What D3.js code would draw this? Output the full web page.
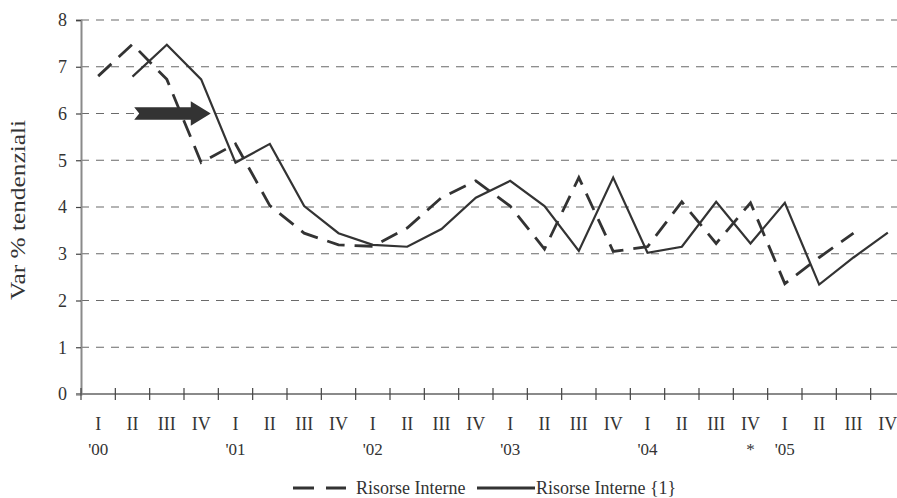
<!DOCTYPE html>
<html>
<head>
<meta charset="utf-8">
<script src="https://cdn.jsdelivr.net/npm/d3@7"></script>
<style>
  html, body { margin: 0; padding: 0; background: #fff; }
  svg { display: block; }
  text { font-family: "Liberation Serif", "Times New Roman", serif; fill: #333; }
</style>
</head>
<body>
<svg id="chart" width="897" height="498"></svg>
<script>
// Quarterly categories
const years = ["'00", "'01", "'02", "'03", "'04", "'05"];
const quarterNames = ["I", "II", "III", "IV"];
// Footnote marker printed under a quarter
const footnoteMarks = [{ year: "'04", quarter: "IV", mark: "*" }];

// Var % tendenziali, one value per quarter (null = no observation)
const risorseInterne = [
  6.80, 7.48, 6.73, 4.95,
  5.35, 4.03, 3.44, 3.19,
  3.16, 3.55, 4.20, 4.56,
  4.02, 3.10, 4.63, 3.05,
  3.15, 4.11, 3.22, 4.09,
  2.36, 2.92, 3.44, null
];
const risorseInterne1 = [
  null, 6.79, 7.47, 6.73,
  4.95, 5.35, 4.02, 3.44,
  3.19, 3.15, 3.53, 4.20,
  4.56, 4.02, 3.06, 4.63,
  3.02, 3.15, 4.11, 3.22,
  4.09, 2.34, 2.92, 3.45
];
const yTicks = [0, 1, 2, 3, 4, 5, 6, 7, 8];
const seriesNames = ["Risorse Interne", "Risorse Interne {1}"];
// Shift arrow, in quarter-index units along the 6% line
const arrowSpan = { from: 1.05, to: 3.28, value: 6 };

const categories = [];
years.forEach(yr => quarterNames.forEach(q => categories.push({ year: yr, quarter: q, key: q + yr })));

const svg = d3.select("#chart");
const plotLeft = 81, plotTop = 20, plotBottom = 394, plotRight = 905;

const x = d3.scaleBand().domain(categories.map(d => d.key)).range([plotLeft, plotRight]).paddingInner(0).paddingOuter(0);
const xi = d3.scaleLinear().domain([0, categories.length - 1])
  .range([x(categories[0].key) + x.bandwidth() / 2, x(categories[categories.length - 1].key) + x.bandwidth() / 2]);
const y = d3.scaleLinear().domain([0, 8]).range([plotBottom, plotTop]);

svg.append("rect").attr("width", 897).attr("height", 498).attr("fill", "#fff");

// Horizontal gridlines
svg.append("g").selectAll("line").data(yTicks.filter(v => v > 0)).join("line")
  .attr("x1", plotLeft).attr("x2", 897)
  .attr("y1", d => y(d)).attr("y2", d => y(d))
  .attr("stroke", "#6a6a6a").attr("stroke-width", 1.1)
  .attr("stroke-dasharray", "8,7");

// Y axis
const yAxis = svg.append("g").attr("transform", `translate(${plotLeft},0)`)
  .call(d3.axisLeft(y).tickValues(yTicks).tickSize(5).tickPadding(9).tickFormat(d3.format("d")));
yAxis.select(".domain").attr("stroke", "#8a8a8a").attr("stroke-width", 2);
yAxis.selectAll(".tick line").attr("stroke", "#444").attr("stroke-width", 1.2);
yAxis.selectAll(".tick text").attr("font-size", 18).attr("font-family", "Liberation Serif").attr("fill", "#333");

// X axis with ticks at quarter boundaries
const edges = categories.map(d => x(d.key)).concat([plotRight]);
svg.append("line").attr("x1", plotLeft - 5).attr("x2", 897).attr("y1", plotBottom).attr("y2", plotBottom)
  .attr("stroke", "#8a8a8a").attr("stroke-width", 2);
svg.append("g").selectAll("line").data(edges).join("line")
  .attr("x1", d => d).attr("x2", d => d)
  .attr("y1", plotBottom - 6).attr("y2", plotBottom + 6)
  .attr("stroke", "#444").attr("stroke-width", 1.2);

// Quarter labels
svg.append("g").selectAll("text").data(categories).join("text")
  .attr("x", d => x(d.key) + x.bandwidth() / 2).attr("y", 430)
  .attr("text-anchor", "middle").attr("font-size", 18)
  .text(d => d.quarter);
// Year labels under the first quarter
svg.append("g").selectAll("text").data(categories.filter(d => d.quarter === "I")).join("text")
  .attr("x", d => x(d.key) + x.bandwidth() / 2).attr("y", 455)
  .attr("text-anchor", "middle").attr("font-size", 17)
  .text(d => d.year);
svg.append("g").selectAll("text").data(footnoteMarks).join("text")
  .attr("x", d => x(d.quarter + d.year) + x.bandwidth() / 2).attr("y", 455)
  .attr("text-anchor", "middle").attr("font-size", 17)
  .text(d => d.mark);

// Y axis title
svg.append("text")
  .attr("transform", "translate(25,210) rotate(-90)")
  .attr("text-anchor", "middle").attr("font-size", 21)
  .attr("textLength", 180).attr("lengthAdjust", "spacingAndGlyphs")
  .text("Var % tendenziali");

// Series lines
const line = d3.line()
  .defined(d => d.v != null)
  .x(d => x(d.key) + x.bandwidth() / 2)
  .y(d => y(d.v));
const dashedData = categories.map((c, i) => ({ key: c.key, v: risorseInterne[i] }));
const solidData = categories.map((c, i) => ({ key: c.key, v: risorseInterne1[i] }));

svg.append("path").datum(dashedData).attr("d", line)
  .attr("fill", "none").attr("stroke", "#333").attr("stroke-width", 2.8)
  .attr("stroke-dasharray", "18,10");
svg.append("path").datum(solidData).attr("d", line)
  .attr("fill", "none").attr("stroke", "#333").attr("stroke-width", 2.2)
  .attr("stroke-linejoin", "miter");

// Block arrow marking the one-quarter shift
{
  const ax0 = xi(arrowSpan.from), ax1 = xi(arrowSpan.to), yc = y(arrowSpan.value);
  const headLen = 20, headHalf = 12.3, shaftHalf = 6.2, notch = 5;
  const pts = [
    [ax0, yc - shaftHalf], [ax1 - headLen, yc - shaftHalf], [ax1 - headLen, yc - headHalf],
    [ax1, yc], [ax1 - headLen, yc + headHalf], [ax1 - headLen, yc + shaftHalf],
    [ax0, yc + shaftHalf], [ax0 + notch, yc]
  ];
  svg.append("path").attr("d", "M" + pts.map(p => p.join(",")).join("L") + "Z")
    .attr("fill", "#333");
}

// Legend
const lg = svg.append("g");
lg.append("line").attr("x1", 293).attr("x2", 346).attr("y1", 488).attr("y2", 488)
  .attr("stroke", "#333").attr("stroke-width", 3).attr("stroke-dasharray", "21,12");
lg.append("text").attr("x", 356).attr("y", 494).attr("font-size", 18).text(seriesNames[0]);
lg.append("line").attr("x1", 477).attr("x2", 535).attr("y1", 488).attr("y2", 488)
  .attr("stroke", "#333").attr("stroke-width", 3);
lg.append("text").attr("x", 536).attr("y", 494).attr("font-size", 18).text(seriesNames[1]);
</script>
</body>
</html>
